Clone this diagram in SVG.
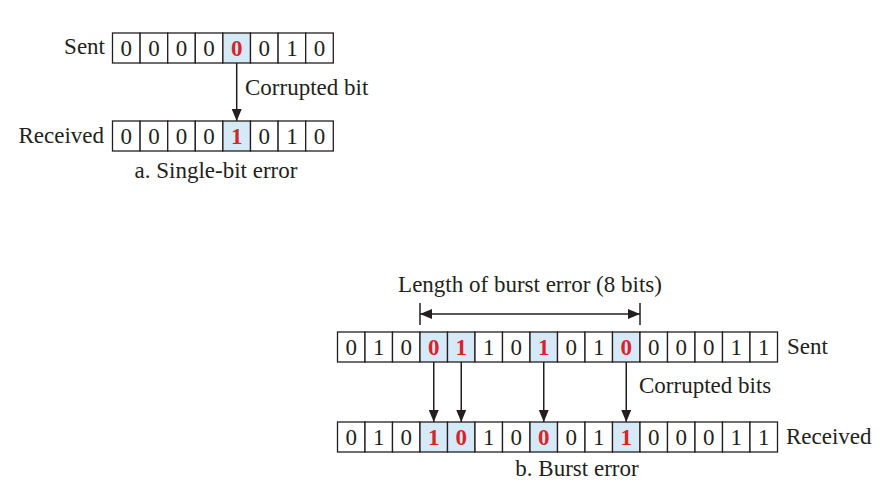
<svg xmlns="http://www.w3.org/2000/svg" width="886" height="497" viewBox="0 0 886 497">
<defs>
<style>
.c{fill:#fff;stroke:#231f20;stroke-width:1.3}
.h{fill:#d6e9f7;stroke:#231f20;stroke-width:1.3}
.d{font-family:"Liberation Serif","Times New Roman",serif;font-size:23px;fill:#231f20;text-anchor:middle}
.r{font-family:"Liberation Serif","Times New Roman",serif;font-size:23px;fill:#d7232b;font-weight:bold;text-anchor:middle}
.t{font-family:"Liberation Serif","Times New Roman",serif;font-size:23px;fill:#231f20}
.ln{stroke:#231f20;stroke-width:1.5;fill:none}
</style>
<marker id="ab" viewBox="0 0 12 10" refX="12" refY="5" markerWidth="12" markerHeight="10" markerUnits="userSpaceOnUse" orient="auto-start-reverse">
<path d="M0,0 L12,5 L0,10 Z" fill="#231f20"/>
</marker>
</defs>
<rect width="886" height="497" fill="#fff"/>

<g id="single-sent">
<text class="t" x="105" y="54" text-anchor="end">Sent</text>
<rect class="c" x="112.5" y="33" width="27.6" height="30"/>
<rect class="c" x="140.1" y="33" width="27.6" height="30"/>
<rect class="c" x="167.7" y="33" width="27.6" height="30"/>
<rect class="c" x="195.3" y="33" width="27.6" height="30"/>
<rect class="h" x="222.9" y="33" width="27.6" height="30"/>
<rect class="c" x="250.5" y="33" width="27.6" height="30"/>
<rect class="c" x="278.1" y="33" width="27.6" height="30"/>
<rect class="c" x="305.7" y="33" width="27.6" height="30"/>
<text class="d" x="126.3" y="56">0</text>
<text class="d" x="153.9" y="56">0</text>
<text class="d" x="181.5" y="56">0</text>
<text class="d" x="209.1" y="56">0</text>
<text class="r" x="236.7" y="56">0</text>
<text class="d" x="264.3" y="56">0</text>
<text class="d" x="291.9" y="56">1</text>
<text class="d" x="319.5" y="56">0</text>
</g>

<g id="single-received">
<text class="t" x="104" y="143" text-anchor="end">Received</text>
<rect class="c" x="112.5" y="121" width="27.6" height="30"/>
<rect class="c" x="140.1" y="121" width="27.6" height="30"/>
<rect class="c" x="167.7" y="121" width="27.6" height="30"/>
<rect class="c" x="195.3" y="121" width="27.6" height="30"/>
<rect class="h" x="222.9" y="121" width="27.6" height="30"/>
<rect class="c" x="250.5" y="121" width="27.6" height="30"/>
<rect class="c" x="278.1" y="121" width="27.6" height="30"/>
<rect class="c" x="305.7" y="121" width="27.6" height="30"/>
<text class="d" x="126.3" y="144">0</text>
<text class="d" x="153.9" y="144">0</text>
<text class="d" x="181.5" y="144">0</text>
<text class="d" x="209.1" y="144">0</text>
<text class="r" x="236.7" y="144">1</text>
<text class="d" x="264.3" y="144">0</text>
<text class="d" x="291.9" y="144">1</text>
<text class="d" x="319.5" y="144">0</text>
</g>

<g id="single-labels">
<text class="t" x="245" y="95">Corrupted bit</text>
<text class="t" x="216" y="178" text-anchor="middle">a. Single-bit error</text>
</g>

<g id="burst-sent">
<rect class="c" x="337.5" y="332" width="27.5" height="30"/>
<rect class="c" x="365" y="332" width="27.5" height="30"/>
<rect class="c" x="392.5" y="332" width="27.5" height="30"/>
<rect class="h" x="420" y="332" width="27.5" height="30"/>
<rect class="h" x="447.5" y="332" width="27.5" height="30"/>
<rect class="c" x="475" y="332" width="27.5" height="30"/>
<rect class="c" x="502.5" y="332" width="27.5" height="30"/>
<rect class="h" x="530" y="332" width="27.5" height="30"/>
<rect class="c" x="557.5" y="332" width="27.5" height="30"/>
<rect class="c" x="585" y="332" width="27.5" height="30"/>
<rect class="h" x="612.5" y="332" width="27.5" height="30"/>
<rect class="c" x="640" y="332" width="27.5" height="30"/>
<rect class="c" x="667.5" y="332" width="27.5" height="30"/>
<rect class="c" x="695" y="332" width="27.5" height="30"/>
<rect class="c" x="722.5" y="332" width="27.5" height="30"/>
<rect class="c" x="750" y="332" width="27.5" height="30"/>
<text class="d" x="351.25" y="355">0</text>
<text class="d" x="378.75" y="355">1</text>
<text class="d" x="406.25" y="355">0</text>
<text class="r" x="433.75" y="355">0</text>
<text class="r" x="461.25" y="355">1</text>
<text class="d" x="488.75" y="355">1</text>
<text class="d" x="516.25" y="355">0</text>
<text class="r" x="543.75" y="355">1</text>
<text class="d" x="571.25" y="355">0</text>
<text class="d" x="598.75" y="355">1</text>
<text class="r" x="626.25" y="355">0</text>
<text class="d" x="653.75" y="355">0</text>
<text class="d" x="681.25" y="355">0</text>
<text class="d" x="708.75" y="355">0</text>
<text class="d" x="736.25" y="355">1</text>
<text class="d" x="763.75" y="355">1</text>
<text class="t" x="787" y="354">Sent</text>
</g>

<g id="burst-received">
<rect class="c" x="337.5" y="422" width="27.5" height="30"/>
<rect class="c" x="365" y="422" width="27.5" height="30"/>
<rect class="c" x="392.5" y="422" width="27.5" height="30"/>
<rect class="h" x="420" y="422" width="27.5" height="30"/>
<rect class="h" x="447.5" y="422" width="27.5" height="30"/>
<rect class="c" x="475" y="422" width="27.5" height="30"/>
<rect class="c" x="502.5" y="422" width="27.5" height="30"/>
<rect class="h" x="530" y="422" width="27.5" height="30"/>
<rect class="c" x="557.5" y="422" width="27.5" height="30"/>
<rect class="c" x="585" y="422" width="27.5" height="30"/>
<rect class="h" x="612.5" y="422" width="27.5" height="30"/>
<rect class="c" x="640" y="422" width="27.5" height="30"/>
<rect class="c" x="667.5" y="422" width="27.5" height="30"/>
<rect class="c" x="695" y="422" width="27.5" height="30"/>
<rect class="c" x="722.5" y="422" width="27.5" height="30"/>
<rect class="c" x="750" y="422" width="27.5" height="30"/>
<text class="d" x="351.25" y="445">0</text>
<text class="d" x="378.75" y="445">1</text>
<text class="d" x="406.25" y="445">0</text>
<text class="r" x="433.75" y="445">1</text>
<text class="r" x="461.25" y="445">0</text>
<text class="d" x="488.75" y="445">1</text>
<text class="d" x="516.25" y="445">0</text>
<text class="r" x="543.75" y="445">0</text>
<text class="d" x="571.25" y="445">0</text>
<text class="d" x="598.75" y="445">1</text>
<text class="r" x="626.25" y="445">1</text>
<text class="d" x="653.75" y="445">0</text>
<text class="d" x="681.25" y="445">0</text>
<text class="d" x="708.75" y="445">0</text>
<text class="d" x="736.25" y="445">1</text>
<text class="d" x="763.75" y="445">1</text>
<text class="t" x="786" y="444">Received</text>
</g>

<g id="burst-labels">
<text class="t" x="530" y="292" text-anchor="middle">Length of burst error (8 bits)</text>
<text class="t" x="639" y="393">Corrupted bits</text>
<text class="t" x="577" y="476" text-anchor="middle">b. Burst error</text>
</g>

<g id="connectors">
<line class="ln" x1="236.7" y1="63" x2="236.7" y2="121" marker-end="url(#ab)"/>
<line class="ln" x1="433.75" y1="362" x2="433.75" y2="422" marker-end="url(#ab)"/>
<line class="ln" x1="461.25" y1="362" x2="461.25" y2="422" marker-end="url(#ab)"/>
<line class="ln" x1="543.75" y1="362" x2="543.75" y2="422" marker-end="url(#ab)"/>
<line class="ln" x1="626.25" y1="362" x2="626.25" y2="422" marker-end="url(#ab)"/>
<line class="ln" x1="420" y1="314" x2="640" y2="314" marker-start="url(#ab)" marker-end="url(#ab)"/>
<line class="ln" x1="420" y1="303" x2="420" y2="325"/>
<line class="ln" x1="640" y1="303" x2="640" y2="325"/>
</g>
</svg>
